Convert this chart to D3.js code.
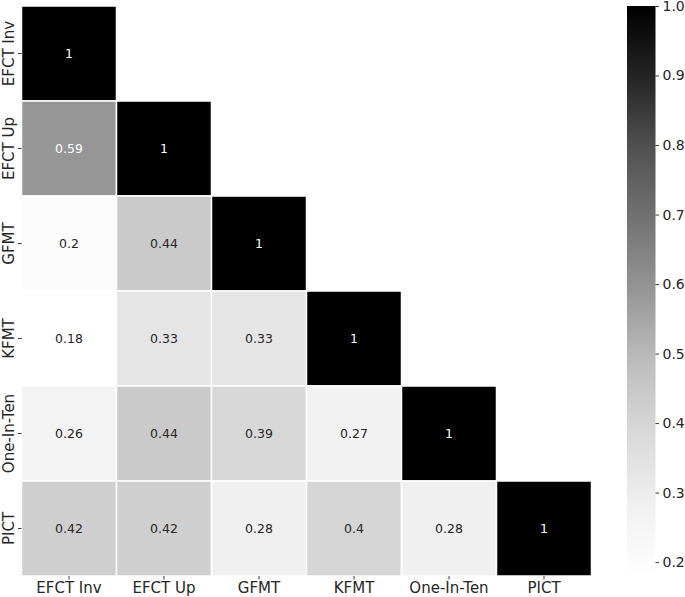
<!DOCTYPE html>
<html>
<head>
<meta charset="utf-8">
<script src="https://cdn.jsdelivr.net/npm/d3@7"></script>
<style>
  body { margin: 0; background: #fff; }
  text { font-family: "DejaVu Sans", sans-serif; }
</style>
</head>
<body>
<svg width="685" height="597"></svg>
<script>
// Correlation matrix (lower triangle incl. diagonal)
const labels = ['EFCT Inv', 'EFCT Up', 'GFMT', 'KFMT', 'One-In-Ten', 'PICT']
const rowEFCTInv = [1]
const rowEFCTUp = [0.59, 1]
const rowGFMT = [0.2, 0.44, 1]
const rowKFMT = [0.18, 0.33, 0.33, 1]
const rowOneInTen = [0.26, 0.44, 0.39, 0.27, 1]
const rowPICT = [0.42, 0.42, 0.28, 0.4, 0.28, 1]
const rows = [rowEFCTInv, rowEFCTUp, rowGFMT, rowKFMT, rowOneInTen, rowPICT]
const colorTicks = [0.2, 0.3, 0.4, 0.5, 0.6, 0.7, 0.8, 0.9, 1.0]

const cells = []
rows.forEach((r, i) => r.forEach((v, j) => cells.push({ row: labels[i], col: labels[j], value: v })))

const svg = d3.select('svg')
const xPixelMin = 21.5, yPixelMin = 6, xPixelMax = 591.5, yPixelMax = 576

// matplotlib "Greys" colormap, linear over the colorbrewer stops
const greys = ['#ffffff', '#f0f0f0', '#d9d9d9', '#bdbdbd', '#969696', '#737373', '#525252', '#252525', '#000000']
const vmin = d3.min(cells, (d) => d.value), vmax = d3.max(cells, (d) => d.value)
const tScale = d3.scaleLinear().domain([vmin, vmax]).range([0, 1])
const greyScale = d3.scaleLinear()
  .domain(greys.map((c, i) => i / (greys.length - 1)))
  .range(greys)
  .interpolate(d3.interpolateRgb)
const color = (v) => greyScale(tScale(v))

const xScale = d3.scaleBand().domain(labels).range([xPixelMin, xPixelMax])
const yScale = d3.scaleBand().domain(labels).range([yPixelMin, yPixelMax])

// Cells
svg.append('g')
  .selectAll('rect')
  .data(cells)
  .enter()
  .append('rect')
  .attr('x', (d) => xScale(d.col))
  .attr('y', (d) => yScale(d.row))
  .attr('width', xScale.bandwidth())
  .attr('height', yScale.bandwidth())
  .attr('fill', (d) => color(d.value))
  .attr('stroke', '#fff')
  .attr('stroke-width', 1.5)

// Annotations: white text on dark cells, like seaborn
const lum = (c) => {
  const rgb = d3.rgb(c)
  const f = (x) => { x /= 255; return x <= 0.03928 ? x / 12.92 : Math.pow((x + 0.055) / 1.055, 2.4) }
  return 0.2126 * f(rgb.r) + 0.7152 * f(rgb.g) + 0.0722 * f(rgb.b)
}
svg.append('g')
  .selectAll('text')
  .data(cells)
  .enter()
  .append('text')
  .attr('x', (d) => xScale(d.col) + xScale.bandwidth() / 2)
  .attr('y', (d) => yScale(d.row) + yScale.bandwidth() / 2)
  .attr('text-anchor', 'middle')
  .attr('dominant-baseline', 'central')
  .style('font-size', '12.5px')
  .style('fill', (d) => (lum(color(d.value)) < 0.408 ? '#ffffff' : '#262626'))
  .text((d) => d3.format('.2~f')(d.value))

// Axes
const xAxis = d3.axisBottom(xScale).tickSize(3.5).tickPadding(3)
const xAxisG = svg.append('g')
  .attr('transform', `translate(0, ${yPixelMax})`)
  .call(xAxis)
xAxisG.select('.domain').remove()
xAxisG.selectAll('line').attr('stroke', '#262626').attr('stroke-width', 0.9)
xAxisG.selectAll('text')
  .style('font-size', '15px')
  .style('fill', '#262626')
  .attr('font-family', null)

const yAxis = d3.axisLeft(yScale).tickSize(3.5).tickPadding(3)
const yAxisG = svg.append('g')
  .attr('transform', `translate(${xPixelMin}, 0)`)
  .call(yAxis)
yAxisG.select('.domain').remove()
yAxisG.selectAll('line').attr('stroke', '#262626').attr('stroke-width', 0.9)
yAxisG.selectAll('text')
  .attr('x', null)
  .attr('dy', null)
  .attr('text-anchor', 'middle')
  .attr('transform', 'translate(-8, 0) rotate(-90)')
  .style('font-size', '15px')
  .style('fill', '#262626')
  .attr('font-family', null)

// Colorbar
const cbLeft = 627, cbRight = 655.5
const cScale = d3.scaleLinear().domain([vmin, vmax]).range([yPixelMax, yPixelMin])
const defs = svg.append('defs')
const grad = defs.append('linearGradient')
  .attr('id', 'cbGrad')
  .attr('x1', 0).attr('y1', 1).attr('x2', 0).attr('y2', 0)
grad.selectAll('stop')
  .data(greys)
  .enter()
  .append('stop')
  .attr('offset', (d, i) => i / (greys.length - 1))
  .attr('stop-color', (d) => d)

svg.append('rect')
  .attr('x', cbLeft)
  .attr('y', yPixelMin)
  .attr('width', cbRight - cbLeft)
  .attr('height', yPixelMax - yPixelMin)
  .attr('fill', 'url(#cbGrad)')

const cAxis = d3.axisRight(cScale)
  .tickValues(colorTicks)
  .tickFormat(d3.format('.1f'))
  .tickSize(3.5)
  .tickPadding(3.5)
const cAxisG = svg.append('g')
  .attr('transform', `translate(${cbRight}, 0)`)
  .call(cAxis)
cAxisG.select('.domain').remove()
cAxisG.selectAll('line').attr('stroke', '#262626').attr('stroke-width', 0.9)
cAxisG.selectAll('text')
  .style('font-size', '14px')
  .style('fill', '#262626')
  .attr('font-family', null)
</script>
</body>
</html>
